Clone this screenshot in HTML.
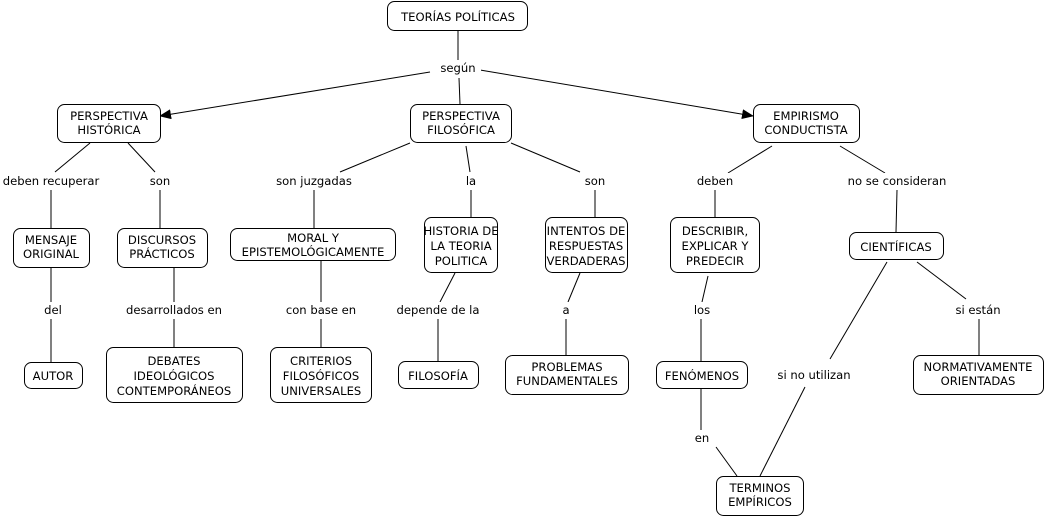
<!DOCTYPE html>
<html><head><meta charset="utf-8"><style>
html,body{margin:0;padding:0;background:#fff;}
svg{display:block;font-family:"DejaVu Sans",Verdana,sans-serif;font-size:11.6px;}
rect.n{fill:#fff;stroke:#000;stroke-width:1;}
rect.l{fill:#fff;stroke:none;}
line{stroke:#000;stroke-width:1;}
text{fill:#000;text-anchor:middle;}
</style></head><body>
<svg width="1046" height="519" viewBox="0 0 1046 519">
<defs><marker id="a" markerWidth="12" markerHeight="10" refX="11" refY="5" orient="auto" markerUnits="userSpaceOnUse"><path d="M0,0 L12,5 L0,10 z" fill="#000"/></marker></defs>
<line x1="458" y1="31" x2="458" y2="68"/>
<line x1="430" y1="72" x2="160" y2="116" marker-end="url(#a)"/>
<line x1="459" y1="78" x2="460" y2="104"/>
<line x1="480" y1="70" x2="753" y2="116" marker-end="url(#a)"/>
<line x1="90" y1="143" x2="55" y2="172"/>
<line x1="128" y1="143" x2="155" y2="172"/>
<line x1="51" y1="190" x2="51" y2="228"/>
<line x1="160" y1="190" x2="160" y2="228"/>
<line x1="51" y1="268" x2="51" y2="302"/>
<line x1="51" y1="318" x2="51" y2="362"/>
<line x1="174" y1="268" x2="174" y2="302"/>
<line x1="174" y1="318" x2="174" y2="347"/>
<line x1="410" y1="143" x2="340" y2="172"/>
<line x1="466" y1="146" x2="470" y2="172"/>
<line x1="511" y1="143" x2="580" y2="172"/>
<line x1="314" y1="190" x2="314" y2="228"/>
<line x1="471" y1="190" x2="471" y2="217"/>
<line x1="595" y1="190" x2="595" y2="217"/>
<line x1="321" y1="261" x2="321" y2="302"/>
<line x1="321" y1="318" x2="321" y2="347"/>
<line x1="455" y1="273" x2="440" y2="302"/>
<line x1="438" y1="318" x2="438" y2="361"/>
<line x1="580" y1="273" x2="568" y2="302"/>
<line x1="566" y1="318" x2="566" y2="355"/>
<line x1="772" y1="146" x2="728" y2="173"/>
<line x1="840" y1="146" x2="885" y2="173"/>
<line x1="715" y1="190" x2="715" y2="217"/>
<line x1="897" y1="190" x2="896" y2="232"/>
<line x1="708" y1="276" x2="702" y2="302"/>
<line x1="701" y1="318" x2="701" y2="361"/>
<line x1="701" y1="389" x2="701" y2="430"/>
<line x1="716" y1="447" x2="737" y2="476"/>
<line x1="887" y1="262" x2="830" y2="359"/>
<line x1="805" y1="387" x2="760" y2="476"/>
<line x1="917" y1="262" x2="966" y2="299"/>
<line x1="979" y1="318" x2="979" y2="355"/>
<g>
<rect class="l" x="435" y="60" width="46" height="17"/><text x="458" y="72">según</text>
<rect class="l" x="0" y="173" width="103" height="17"/><text x="51" y="185">deben recuperar</text>
<rect class="l" x="147" y="173" width="26" height="17"/><text x="160" y="185">son</text>
<rect class="l" x="273" y="173" width="83" height="17"/><text x="314" y="185">son juzgadas</text>
<rect class="l" x="463" y="173" width="16" height="17"/><text x="471" y="185">la</text>
<rect class="l" x="582" y="173" width="26" height="17"/><text x="595" y="185">son</text>
<rect class="l" x="694" y="173" width="42" height="17"/><text x="715" y="185">deben</text>
<rect class="l" x="844" y="173" width="106" height="17"/><text x="897" y="185">no se consideran</text>
<rect class="l" x="40" y="302" width="24" height="17"/><text x="53" y="314">del</text>
<rect class="l" x="120" y="302" width="108" height="17"/><text x="174" y="314">desarrollados en</text>
<rect class="l" x="282" y="302" width="78" height="17"/><text x="321" y="314">con base en</text>
<rect class="l" x="393" y="302" width="90" height="17"/><text x="438" y="314">depende de la</text>
<rect class="l" x="559" y="302" width="14" height="17"/><text x="566" y="314">a</text>
<rect class="l" x="690" y="302" width="24" height="17"/><text x="702" y="314">los</text>
<rect class="l" x="951" y="302" width="54" height="17"/><text x="978" y="314">si están</text>
<rect class="l" x="773" y="367" width="82" height="17"/><text x="814" y="379">si no utilizan</text>
<rect class="l" x="692" y="430" width="20" height="17"/><text x="702" y="442">en</text>
</g>
<rect class="n" x="387.5" y="1.5" width="140" height="29" rx="7"/><text x="458" y="21">TEORÍAS POLÍTICAS</text>
<rect class="n" x="57.5" y="104.5" width="103" height="38" rx="7"/><text x="109" y="120">PERSPECTIVA</text><text x="109" y="134">HISTÓRICA</text>
<rect class="n" x="410.5" y="104.5" width="101" height="38" rx="7"/><text x="461" y="120">PERSPECTIVA</text><text x="461" y="134">FILOSÓFICA</text>
<rect class="n" x="753.5" y="104.5" width="106" height="38" rx="7"/><text x="806" y="120">EMPIRISMO</text><text x="806" y="134">CONDUCTISTA</text>
<rect class="n" x="13.5" y="228.5" width="76" height="39" rx="7"/><text x="51" y="244">MENSAJE</text><text x="51" y="258">ORIGINAL</text>
<rect class="n" x="117.5" y="228.5" width="90" height="39" rx="7"/><text x="162" y="244">DISCURSOS</text><text x="162" y="258">PRÁCTICOS</text>
<rect class="n" x="230.5" y="228.5" width="165" height="32" rx="7"/><text x="313" y="242">MORAL Y</text><text x="313" y="256">EPISTEMOLÓGICAMENTE</text>
<rect class="n" x="424.5" y="217.5" width="73" height="55" rx="7"/><text x="461" y="235">HISTORIA DE</text><text x="461" y="250">LA TEORIA</text><text x="461" y="265">POLITICA</text>
<rect class="n" x="545.5" y="217.5" width="82" height="55" rx="7"/><text x="586" y="235">INTENTOS DE</text><text x="586" y="250">RESPUESTAS</text><text x="586" y="265">VERDADERAS</text>
<rect class="n" x="670.5" y="217.5" width="89" height="55" rx="7"/><text x="715" y="235">DESCRIBIR,</text><text x="715" y="250">EXPLICAR Y</text><text x="715" y="265">PREDECIR</text>
<rect class="n" x="849.5" y="232.5" width="94" height="27" rx="7"/><text x="896" y="251">CIENTÍFICAS</text>
<rect class="n" x="24.5" y="362.5" width="58" height="26" rx="7"/><text x="53" y="380">AUTOR</text>
<rect class="n" x="106.5" y="347.5" width="136" height="55" rx="7"/><text x="174" y="365">DEBATES</text><text x="174" y="380">IDEOLÓGICOS</text><text x="174" y="395">CONTEMPORÁNEOS</text>
<rect class="n" x="270.5" y="347.5" width="101" height="55" rx="7"/><text x="321" y="365">CRITERIOS</text><text x="321" y="380">FILOSÓFICOS</text><text x="321" y="395">UNIVERSALES</text>
<rect class="n" x="398.5" y="361.5" width="80" height="27" rx="7"/><text x="438" y="380">FILOSOFÍA</text>
<rect class="n" x="505.5" y="355.5" width="123" height="39" rx="7"/><text x="567" y="371">PROBLEMAS</text><text x="567" y="385">FUNDAMENTALES</text>
<rect class="n" x="656.5" y="361.5" width="91" height="27" rx="7"/><text x="702" y="380">FENÓMENOS</text>
<rect class="n" x="913.5" y="355.5" width="130" height="39" rx="7"/><text x="978" y="371">NORMATIVAMENTE</text><text x="978" y="385">ORIENTADAS</text>
<rect class="n" x="716.5" y="476.5" width="87" height="39" rx="7"/><text x="760" y="492">TERMINOS</text><text x="760" y="506">EMPÍRICOS</text>
</svg>
</body></html>
